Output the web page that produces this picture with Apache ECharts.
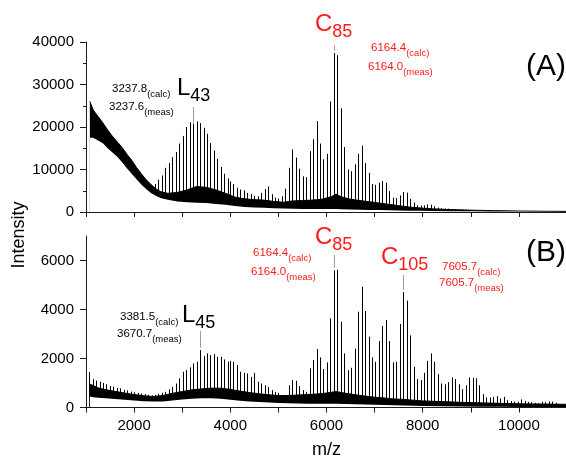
<!DOCTYPE html>
<html><head><meta charset="utf-8">
<script src="https://cdn.jsdelivr.net/npm/echarts@6/dist/echarts.min.js"></script>
<style>html,body{margin:0;padding:0;background:#fff}#c{width:566px;height:461px}</style>
</head><body><div id="c"></div>
<script>
const FONT = '"Liberation Sans", Arial, Helvetica, sans-serif';

// x tick labels (m/z)
const xTickLabels = [2000, 4000, 6000, 8000, 10000];
const yTicksB = [0, 2000, 4000, 6000];
const yMinorTicksB = [1000, 3000, 5000, 7000];

// ---------- Panel (A) ----------
const peakA_mz = [2445, 2517, 2589, 2661, 2733, 2805, 2877, 2949, 3021, 3093, 3166, 3238, 3310, 3382, 3454, 3526, 3598, 3670, 3742, 3814, 3886, 3958,
  4003, 4075, 4147, 4219, 4291, 4363, 4435, 4507, 4579, 4651, 4723, 4795, 4867, 4939, 5011, 5083, 5156, 5228, 5300, 5372, 5444, 5516, 5588,
  5660, 5732, 5804, 5876, 5948, 6020, 6092, 6164, 6236, 6308, 6380, 6452, 6525, 6597, 6669, 6741, 6813, 6885, 6957, 7029, 7101, 7173, 7245,
  7317, 7389, 7461, 7533, 7606, 7678, 7750, 7822, 7894, 7966, 8038, 8110, 8182, 8254, 8326, 8398, 8470, 8542, 8614, 8686, 8758, 8830, 8902, 8975];
const peakA_int = [6600, 7600, 8600, 10400, 11500, 12900, 14100, 16100, 17900, 20000, 21100, 20800, 21300, 20900, 19800, 18400, 16200, 14500, 12500, 10600, 9000, 7900,
  7200, 6600, 5700, 5300, 5100, 4500, 4200, 3800, 3700, 4500, 5400, 6000, 4200, 3400, 3150, 3700, 5500, 10400, 14700, 12800, 10200, 8400, 8200,
  14300, 17100, 21400, 16100, 12400, 13700, 26000, 37400, 36900, 24400, 15300, 10000, 9600, 11200, 13700, 15600, 11500, 9200, 6600, 6400, 6900, 7300, 6900,
  4900, 3400, 3300, 3900, 4700, 4550, 3100, 2200, 1570, 1500, 1570, 1800, 1720, 1340, 1030, 870, 800, 800, 710, 650, 600, 560, 520, 480];

const bandA_mz = [1080, 1150, 1250, 1350, 1450, 1550, 1650, 1750, 1850, 1950, 2050, 2150, 2250, 2350, 2450, 2550, 2700, 2900, 3100, 3300, 3500, 3700, 3900,
  4100, 4300, 4500, 4700, 4900, 5100, 5300, 5500, 5700, 5900, 6100, 6200, 6300, 6500, 6700, 6900, 7100, 7300, 7500, 7700, 7900, 8200, 8600, 9000, 9500, 10000, 10500, 11000];
const bandA_hi = [26000, 24000, 22500, 21000, 19300, 17800, 16500, 15200, 13600, 12200, 10500, 9000, 7600, 6500, 5500, 4800, 4400, 4600, 5200, 6000, 5800, 5200, 4400,
  3500, 3100, 2900, 2800, 2500, 2300, 2600, 2700, 2800, 3000, 3600, 4200, 3600, 3000, 2700, 2400, 2100, 1800, 1500, 1200, 1000, 750, 560, 430, 320, 230, 180, 150];
const bandA_lo = [17500, 17500, 16800, 16200, 15000, 14000, 13000, 11700, 10300, 9000, 7700, 6500, 5400, 4500, 3800, 3300, 2900, 2500, 2300, 2200, 2100, 1900, 1700,
  1400, 1200, 1050, 1000, 900, 800, 750, 700, 700, 700, 700, 700, 650, 600, 550, 500, 450, 400, 350, 300, 280, 250, 200, 150, 120, 100, 80, 60];

// label tick marks (m/z, from, to)
const markA_gray = [[3237.8, 20900, 24700]];
const markA_red = [[6164.4, 38000, 39300]];

// ---------- Panel (B) ----------
const peakB_mz = [1076, 1148, 1220, 1292, 1364, 1436, 1509, 1581, 1653, 1725, 1797, 1869, 1941, 2013, 2085, 2157, 2229, 2301, 2373, 2445, 2517, 2589,
  2661, 2733, 2805, 2877, 2949, 3021, 3093, 3165, 3237, 3310, 3382, 3454, 3526, 3598, 3670, 3742, 3814, 3886, 3958,
  4003, 4075, 4147, 4219, 4291, 4363, 4435, 4507, 4579, 4651, 4723, 4795, 4867, 4939, 5011, 5083, 5156, 5228, 5300, 5372, 5444, 5516, 5588,
  5660, 5732, 5804, 5876, 5948, 6020, 6092, 6164, 6236, 6308, 6380, 6452, 6525, 6597, 6669, 6741, 6813, 6885, 6957, 7029, 7101, 7173, 7245,
  7317, 7389, 7461, 7533, 7606, 7678, 7750, 7822, 7894, 7966, 8038, 8110, 8182, 8254, 8326, 8398, 8470, 8542, 8614, 8686, 8758, 8830, 8902, 8975,
  9047, 9119, 9191, 9263, 9335, 9407, 9479, 9551, 9623, 9695, 9767, 9839, 9911, 9984, 10056, 10128, 10200, 10272, 10344, 10416, 10488, 10560, 10632, 10704, 10776];
const peakB_int = [1450, 1150, 1100, 1050, 1000, 950, 880, 850, 800, 780, 720, 700, 650, 620, 600, 570, 550, 520, 500, 520, 560, 600,
  640, 740, 840, 980, 1190, 1460, 1530, 1640, 1800, 1870, 2345, 2100, 2210, 2140, 2180, 2070, 2070, 1960, 1870,
  1900, 1865, 1730, 1460, 1415, 1390, 1250, 1415, 1050, 980, 910, 840, 710, 640, 600, 500, 430, 910, 1120, 1090, 870, 710, 640,
  1600, 1935, 2385, 2045, 1570, 1840, 3640, 5600, 5620, 3500, 2210, 1525, 1620, 2410, 3910, 4930, 3940, 2890, 2045, 1865, 2710, 3325, 3570,
  2710, 1840, 1865, 3410, 4715, 4360, 2945, 1660, 1160, 1120, 1415, 1905, 2210, 1865, 1360, 980, 950, 1035, 1230, 1160, 950, 750, 910, 1230,
  1210, 1190, 910, 545, 410, 410, 435, 465, 370, 435, 300, 260, 245, 230, 330, 270, 230, 220, 190, 180, 230, 220, 245, 245, 190];

const bandB_mz = [1080, 1150, 1250, 1400, 1600, 1800, 2000, 2200, 2400, 2600, 2800, 3000, 3200, 3400, 3600, 3800, 4000, 4200, 4400, 4600, 4800, 5000,
  5200, 5400, 5600, 5800, 6000, 6200, 6400, 6600, 6800, 7000, 7200, 7400, 7600, 7800, 8000, 8400, 8800, 9200, 9600, 10000, 10500, 11000];
const bandB_hi = [950, 900, 800, 730, 660, 590, 530, 480, 450, 490, 580, 650, 720, 760, 790, 790, 740, 670, 610, 560, 520, 490,
  490, 510, 530, 550, 590, 650, 580, 520, 470, 420, 390, 350, 330, 300, 270, 240, 210, 190, 170, 150, 140, 130];
const bandB_lo = [450, 420, 400, 380, 350, 320, 290, 260, 240, 250, 290, 330, 360, 380, 380, 360, 320, 280, 250, 220, 200, 180,
  170, 160, 150, 150, 150, 150, 140, 130, 120, 110, 100, 90, 80, 70, 60, 50, 40, 30, 30, 20, 20, 20];

const markB_gray = [[3381.5, 2450, 3120], [6164.4, 5700, 6230], [7605.7, 4800, 5410]];

// ---------- helpers ----------
const zip = (a, b) => a.map((v, i) => [v, b[i]]);

function stickSeries(data, xi, yi, color, width, z) {
  return {
    type: 'custom', xAxisIndex: xi, yAxisIndex: yi, data: data, z: z, silent: true,
    encode: { x: 0, y: 1 },
    renderItem: function (params, api) {
      const x = api.value(0);
      const hasRange = data[params.dataIndex].length > 2;
      const y0 = hasRange ? api.value(1) : 0;
      const y1 = hasRange ? api.value(2) : api.value(1);
      const p0 = api.coord([x, y0]);
      const p1 = api.coord([x, y1]);
      const px = Math.round(p0[0] - 0.5) + 0.5;
      return { type: 'line', shape: { x1: px, y1: p0[1], x2: px, y2: p1[1] },
               style: { stroke: color, lineWidth: width } };
    }
  };
}
function bandSeries(mz, vals, xi, yi, fill, z, stroke) {
  return {
    type: 'line', xAxisIndex: xi, yAxisIndex: yi, data: zip(mz, vals), z: z, silent: true,
    showSymbol: false, symbol: 'none', animation: false,
    lineStyle: stroke ? { color: stroke, width: 1 } : { width: 0, opacity: 0 },
    areaStyle: { color: fill, opacity: 1 }
  };
}

const axisLineStyle = { show: true, lineStyle: { color: '#1a1a1a', width: 1 } };
function xAxisDef(gi, labels) {
  return {
    type: 'value', gridIndex: gi, min: 1000, max: 11000, interval: 1000, z: 10,
    axisLine: axisLineStyle, splitLine: { show: false },
    axisTick: { show: true, inside: false, length: 5, lineStyle: { color: '#1a1a1a' } },
    axisLabel: labels ? {
      show: true, fontSize: 15, fontFamily: FONT, color: '#000', margin: 11,
      formatter: v => xTickLabels.indexOf(v) >= 0 ? String(v) : ''
    } : { show: false },
    name: labels ? 'm/z' : '', nameLocation: 'middle', nameGap: 34,
    nameTextStyle: { fontSize: 18, fontFamily: FONT, color: '#000' }
  };
}

// text measuring for subscripts
const mctx = document.createElement('canvas').getContext('2d');
function textW(t, size) { mctx.font = size + 'px ' + FONT; return mctx.measureText(t).width; }
function txt(x, y, text, size, color, align, rot) {
  return { type: 'text', x: x, y: y, rotation: rot || 0, z: 100, silent: true,
    style: { text: text, fill: color, font: size + 'px ' + FONT, align: align || 'left', verticalAlign: 'middle' } };
}
// main text + lowered subscript; y = vertical middle of main text
function ann(x, y, main, sub, color, big) {
  const ms = big ? 24 : 11.5, ss = big ? 18 : 9.5, dy = big ? 8.5 : 5;
  const w = textW(main, ms);
  return [txt(x, y, main, ms, color), txt(x + w, y + dy, sub, ss, color)];
}
const RED = '#ff1a1a', BLK = '#000';

const chart = echarts.init(document.getElementById('c'), null, { renderer: 'canvas' });
chart.setOption({
  animation: false,
  backgroundColor: '#fff',
  grid: [
    { left: 86, right: -1, top: 42, height: 170, containLabel: false, outerBoundsMode: 'none' },
    { left: 86, right: -1, top: 236, height: 171.5, containLabel: false, outerBoundsMode: 'none' }
  ],
  xAxis: [xAxisDef(0, false), xAxisDef(1, true)],
  yAxis: [
    { type: 'value', gridIndex: 0, min: 0, max: 40000, interval: 10000, z: 10,
      axisLine: axisLineStyle, splitLine: { show: false },
      axisTick: { show: true, length: 6, lineStyle: { color: '#1a1a1a' } },
      minorTick: { show: true, splitNumber: 2, length: 3, lineStyle: { color: '#1a1a1a' } },
      axisLabel: { fontSize: 15, fontFamily: FONT, color: '#000', margin: 12, formatter: v => String(v) } },
    { type: 'value', gridIndex: 1, min: 0, max: 7000, interval: 1000, z: 10,
      axisLine: axisLineStyle, splitLine: { show: false },
      axisTick: { show: true, length: 6, customValues: yTicksB, lineStyle: { color: '#1a1a1a' } },
      axisLabel: { fontSize: 15, fontFamily: FONT, color: '#000', margin: 12, customValues: yTicksB,
                   formatter: v => yTicksB.indexOf(v) >= 0 ? String(v) : '' } },
    { type: 'value', gridIndex: 1, min: 0, max: 7000, interval: 1000, z: 10,
      axisLine: { show: false }, splitLine: { show: false }, axisLabel: { show: false },
      axisTick: { show: true, length: 3, customValues: yMinorTicksB, lineStyle: { color: '#1a1a1a' } } }
  ],
  series: [
    bandSeries(bandA_mz, bandA_hi, 0, 0, '#000', 1, '#000'),
    stickSeries(zip(peakA_mz, peakA_int), 0, 0, '#000', 1, 2),
    bandSeries(bandA_mz, bandA_lo, 0, 0, '#fff', 3, null),
    stickSeries(markA_gray, 0, 0, '#9a9a9a', 1, 4),
    stickSeries(markA_red, 0, 0, '#ff8080', 1, 4),

    bandSeries(bandB_mz, bandB_hi, 1, 1, '#000', 1, '#000'),
    stickSeries(zip(peakB_mz, peakB_int), 1, 1, '#000', 1, 2),
    bandSeries(bandB_mz, bandB_lo, 1, 1, '#fff', 3, null),
    stickSeries(markB_gray, 1, 1, '#9a9a9a', 1, 4)
  ],
  graphic: [].concat(
    [txt(19, 235, 'Intensity', 18, BLK, 'center', Math.PI / 2)],
    // (A)
    ann(112, 89, '3237.8', '(calc)', BLK, false),
    ann(109, 107, '3237.6', '(meas)', BLK, false),
    ann(177, 88, 'L', '43', BLK, true),
    ann(315, 24, 'C', '85', RED, true),
    ann(371, 48, '6164.4', '(calc)', RED, false),
    ann(368, 67, '6164.0', '(meas)', RED, false),
    [txt(546, 67, '(A)', 30, BLK, 'center')],
    // (B)
    ann(120, 317, '3381.5', '(calc)', BLK, false),
    ann(117, 334, '3670.7', '(meas)', BLK, false),
    ann(182, 315, 'L', '45', BLK, true),
    ann(253, 253, '6164.4', '(calc)', RED, false),
    ann(251, 272, '6164.0', '(meas)', RED, false),
    ann(315, 237, 'C', '85', RED, true),
    ann(381, 257, 'C', '105', RED, true),
    ann(442, 267, '7605.7', '(calc)', RED, false),
    ann(439, 283, '7605.7', '(meas)', RED, false),
    [txt(546, 253, '(B)', 30, BLK, 'center')]
  )
});
</script></body></html>
